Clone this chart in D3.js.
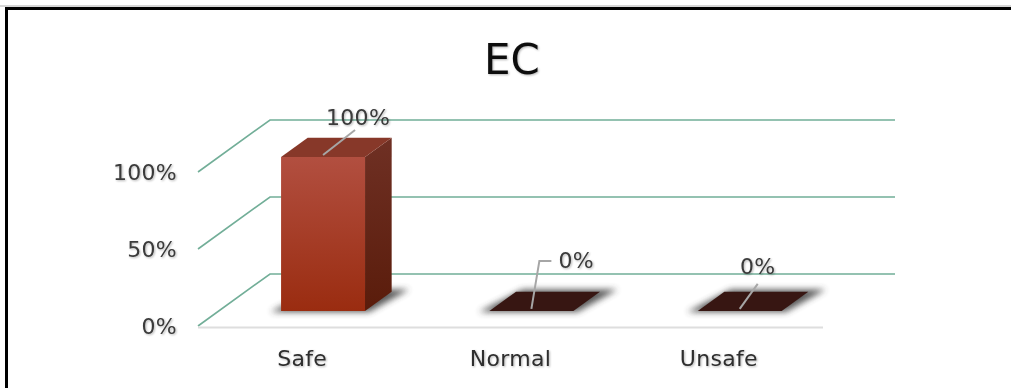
<!DOCTYPE html>
<html>
<head>
<meta charset="utf-8">
<script src="https://cdn.jsdelivr.net/npm/d3@7/dist/d3.min.js"></script>
<style>
  html, body { margin: 0; padding: 0; background: #fff; }
  svg { display: block; }
  text { font-family: "DejaVu Sans", "Open Sans", sans-serif; }
</style>
</head>
<body>
<svg id="chart" width="1011" height="388"></svg>
<script>
// ---- data ----
const title = "EC";
const categories = ["Safe", "Normal", "Unsafe"];
const values = [100, 0, 0];          // percent
const yTicks = [0, 50, 100];

// ---- layout ----
const W = 1011, H = 388;
const front = { x0: 198, x1: 823, yBottom: 326, yTop: 172 };
const DEPTH = [72, -52];            // oblique offset from front plane to back wall
const barDepth = [0.29, 0.66];      // bar front/back as fraction of floor depth
// label placement relative to the bar's front-top centre
const labelLayout = [
  { tx: 35, ty: -38, anchor: "middle", leader: [[0, 0], [32, -25]] },
  { tx: 27, ty: -49, anchor: "start",  leader: [[0, 0], [8, -48], [20, -48]] },
  { tx: 18, ty: -43, anchor: "middle", leader: [[0, 0], [18, -25]] }
];

const svg = d3.select("#chart");
const defs = svg.append("defs");

const x = d3.scaleBand().domain(categories)
  .range([front.x0, front.x1]).paddingInner(0.597).paddingOuter(0.2985);
const y = d3.scaleLinear().domain([0, 100]).range([front.yBottom, front.yTop]);

const proj = (px, v, t) => [px + DEPTH[0] * t, y(v) + DEPTH[1] * t];

// gradients
function vGrad(id, c0, c1) {
  const g = defs.append("linearGradient").attr("id", id)
    .attr("x1", 0).attr("y1", 0).attr("x2", 0).attr("y2", 1);
  g.append("stop").attr("offset", "0%").attr("stop-color", c0);
  g.append("stop").attr("offset", "100%").attr("stop-color", c1);
}
vGrad("gFront", "#b24f40", "#9a2c10");
vGrad("gSide", "#6f3024", "#5a1c0b");

defs.append("filter").attr("id", "soft")
  .attr("x", "-30%").attr("y", "-60%").attr("width", "160%").attr("height", "220%")
  .append("feGaussianBlur").attr("stdDeviation", 3.2);
const ts = defs.append("filter").attr("id", "tshadow")
  .attr("x", "-10%").attr("y", "-20%").attr("width", "130%").attr("height", "150%");
ts.append("feGaussianBlur").attr("in", "SourceAlpha").attr("stdDeviation", 1).attr("result", "b");
ts.append("feOffset").attr("in", "b").attr("dx", 1).attr("dy", 1).attr("result", "o");
ts.append("feComponentTransfer").attr("in", "o").attr("result", "s")
  .append("feFuncA").attr("type", "linear").attr("slope", 0.3);
const tm = ts.append("feMerge");
tm.append("feMergeNode").attr("in", "s");
tm.append("feMergeNode").attr("in", "SourceGraphic");

// frame
svg.append("line").attr("x1", 0).attr("x2", W).attr("y1", 6).attr("y2", 6)
  .attr("stroke", "#c8c8c8").attr("stroke-width", 1.5);
svg.append("rect").attr("x", 6.5).attr("y", 8.5).attr("width", W + 20).attr("height", H + 20)
  .attr("fill", "none").attr("stroke", "#000").attr("stroke-width", 3);

// title
svg.append("text").attr("x", 512).attr("y", 74).attr("text-anchor", "middle")
  .attr("font-size", 42).attr("fill", "#111").attr("filter", "url(#tshadow)")
  .text(title);

// gridlines: side wall + back wall
const line = d3.line();
svg.append("g").selectAll("path").data(yTicks).join("path")
  .attr("d", v => line([proj(front.x0, v, 0), proj(front.x0, v, 1), proj(front.x1, v, 1)]))
  .attr("fill", "none").attr("stroke", "#72ae98").attr("stroke-width", 1.6);

// floor front edge
svg.append("line")
  .attr("x1", front.x0).attr("x2", front.x1)
  .attr("y1", y(0) + 1.5).attr("y2", y(0) + 1.5)
  .attr("stroke", "#dedede").attr("stroke-width", 2);

const labelFont = { size: 22, spacing: 0.3 };

// y tick labels
svg.append("g").selectAll("text").data(yTicks).join("text")
  .attr("x", 177).attr("y", v => y(v)).attr("dy", "0.35em")
  .attr("text-anchor", "end").attr("font-size", labelFont.size)
  .attr("letter-spacing", labelFont.spacing).attr("fill", "#3a3a3a")
  .attr("filter", "url(#tshadow)")
  .text(v => v + "%");

// category labels
svg.append("g").selectAll("text").data(categories).join("text")
  .attr("x", c => x(c) + x.bandwidth() / 2).attr("y", 366)
  .attr("text-anchor", "middle").attr("font-size", labelFont.size)
  .attr("letter-spacing", labelFont.spacing).attr("fill", "#2e2e2e")
  .attr("filter", "url(#tshadow)")
  .text(c => c);

// bars
const [t0, t1] = barDepth;
const bars = svg.append("g").selectAll("g").data(categories.map((c, i) => ({ c, v: values[i], i })))
  .join("g");

bars.each(function (d) {
  const g = d3.select(this);
  const xl = x(d.c), xr = x(d.c) + x.bandwidth();
  // soft shadow on the floor under the bar
  const pad = 9;
  g.append("path")
    .attr("d", line([
      proj(xl - pad, 0, t0 - 0.02), proj(xr + pad * 0.6, 0, t0 - 0.02),
      proj(xr + pad * 1.6, 0, t1 + 0.04), proj(xl + pad * 0.4, 0, t1 + 0.04)]) + "Z")
    .attr("fill", "#3c3c3c").attr("opacity", 0.85).attr("filter", "url(#soft)");

  if (d.v > 0) {
    const fTL = proj(xl, d.v, t0), fTR = proj(xr, d.v, t0);
    const fBL = proj(xl, 0, t0), fBR = proj(xr, 0, t0);
    const bTL = proj(xl, d.v, t1), bTR = proj(xr, d.v, t1), bBR = proj(xr, 0, t1);
    g.append("path").attr("d", line([fTR, bTR, bBR, fBR]) + "Z").attr("fill", "url(#gSide)");
    g.append("path").attr("d", line([fTL, fTR, fBR, fBL]) + "Z").attr("fill", "url(#gFront)");
    g.append("path").attr("d", line([fTL, bTL, bTR, fTR]) + "Z").attr("fill", "#873829");
  } else {
    g.append("path")
      .attr("d", line([proj(xl, 0, t0), proj(xr, 0, t0), proj(xr, 0, t1), proj(xl, 0, t1)]) + "Z")
      .attr("fill", "#371612");
  }

  // data label with leader line
  const L = labelLayout[d.i];
  const a = proj(xl + x.bandwidth() / 2, d.v, t0);
  a[1] -= 2;
  g.append("path")
    .attr("d", line(L.leader.map(p => [a[0] + p[0], a[1] + p[1]])))
    .attr("fill", "none").attr("stroke", "#a6a6a6").attr("stroke-width", 2);
  g.append("text")
    .attr("x", a[0] + L.tx).attr("y", a[1] + L.ty).attr("dy", "0.35em")
    .attr("text-anchor", L.anchor).attr("font-size", labelFont.size)
    .attr("letter-spacing", labelFont.spacing).attr("fill", "#3a3a3a")
    .attr("filter", "url(#tshadow)")
    .text(d.v + "%");
});
</script>
</body>
</html>
